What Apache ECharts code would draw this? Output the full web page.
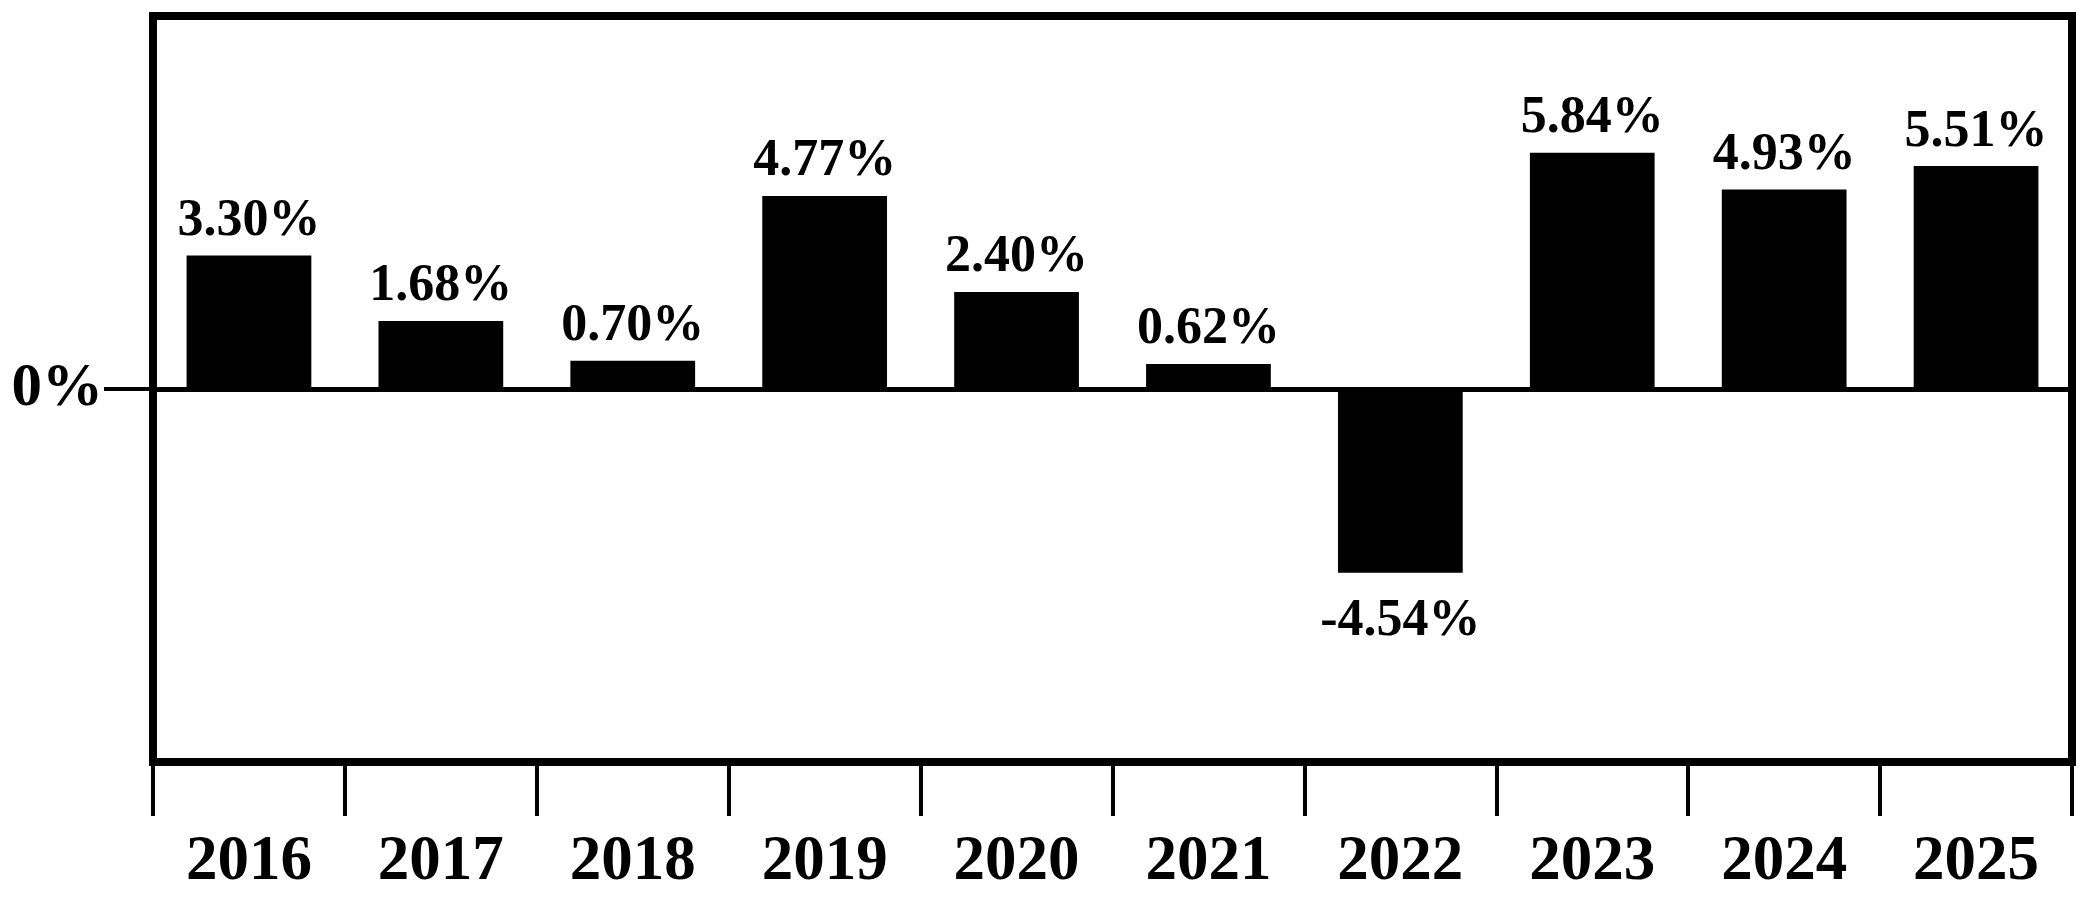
<!DOCTYPE html>
<html>
<head>
<meta charset="utf-8">
<script src="https://cdn.jsdelivr.net/npm/echarts@6/dist/echarts.min.js"></script>
<style>
html,body{margin:0;padding:0;background:#fff;}
#chart{width:2083px;height:900px;}
</style>
</head>
<body>
<div id="chart"></div>
<script>
const categories = ['2016','2017','2018','2019','2020','2021','2022','2023','2024','2025'];
const values = [3.30, 1.68, 0.70, 4.77, 2.40, 0.62, -4.54, 5.84, 4.93, 5.51];
const yTickValues = [0];

const FONT = '"Liberation Serif", "Times New Roman", serif';
const chart = echarts.init(document.getElementById('chart'), null, {renderer: 'canvas'});

const barData = values.map(v => ({
  value: v,
  label: v < 0 ? {position: 'bottom', distance: 23} : {position: 'top', distance: 8}
}));

chart.setOption({
  animation: false,
  backgroundColor: '#fff',
  grid: {
    left: 153, right: 11, top: 16, bottom: 138,
    show: true, borderColor: '#000', borderWidth: 8, backgroundColor: 'transparent'
  },
  xAxis: {
    type: 'category',
    data: categories,
    boundaryGap: true,
    axisLine: {show: true, onZero: false, lineStyle: {color: '#000', width: 8}},
    axisTick: {show: true, interval: 0, length: 54, lineStyle: {color: '#000', width: 4}},
    axisLabel: {
      interval: 0, margin: 69, color: '#000',
      fontFamily: FONT, fontWeight: 'bold', fontSize: 63
    },
    splitLine: {show: false}
  },
  yAxis: {
    type: 'value',
    min: -9.22, max: 9.22,
    axisLine: {show: false},
    axisTick: {show: true, customValues: yTickValues, length: 49, lineStyle: {color: '#000', width: 4}},
    axisLabel: {
      show: true, customValues: yTickValues, margin: 50, color: '#000',
      fontFamily: FONT, fontWeight: 'bold', fontSize: 61,
      formatter: v => v + '%'
    },
    splitLine: {show: false}
  },
  series: [{
    type: 'bar',
    data: barData,
    barCategoryGap: '35%',
    itemStyle: {color: '#000'},
    label: {
      show: true, color: '#000',
      fontFamily: FONT, fontWeight: 'bold', fontSize: 52,
      formatter: p => p.value.toFixed(2) + '%'
    },
    markLine: {
      silent: true,
      symbol: 'none',
      label: {show: false},
      lineStyle: {color: '#000', width: 5, type: 'solid'},
      data: [{yAxis: 0}]
    }
  }]
});
</script>
</body>
</html>
